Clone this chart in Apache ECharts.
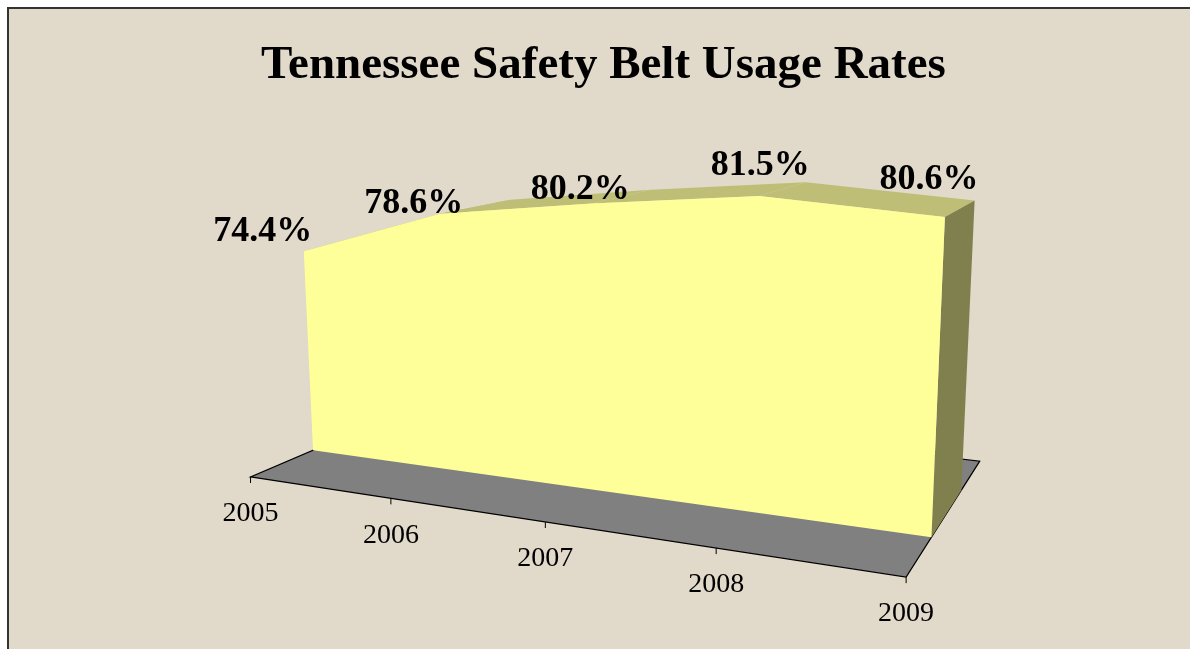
<!DOCTYPE html>
<html><head><meta charset="utf-8">
<script src="https://cdn.jsdelivr.net/npm/echarts@6/dist/echarts.min.js"></script>
<style>
html,body{margin:0;padding:0;background:#fff;}
#frame{position:absolute;left:7px;top:7px;width:1190px;height:640px;border-left:2px solid #333;border-top:2px solid #333;background:#E1D9CA;}
#chart{position:absolute;left:0;top:0;width:1190px;height:650px;}
</style></head><body><div id="frame"></div><div id="chart"></div>
<script>
// Safety belt usage by year
const years = ['2005', '2006', '2007', '2008', '2009'];
const rates = [74.4, 78.6, 80.2, 81.5, 80.6];

// Hidden value axis range the 3D area stands on
const VALUE_MIN = 55.5;
const VALUE_MAX = 100;

// Perspective camera: maps world (X across categories 0..1, Y up 0..1, Z depth 0..1) to screen
const CAM = [489.87683, -44.25333, 288.50489, 250.53646,
             -5.38564, -517.23607, 12.74985, 476.95937,
             -0.18287, -0.06910, 0.23305];
const AREA_FRONT = 0.29, AREA_BACK = 0.70;   // depth slab occupied by the area on the floor
const LABEL_SHIFT = [[-41, -20], [-26, -10], [-11, -14], [1, -30], [-16, -37]];

function proj(X, Y, Z) {
  const w = CAM[8] * X + CAM[9] * Y + CAM[10] * Z + 1;
  return [(CAM[0] * X + CAM[1] * Y + CAM[2] * Z + CAM[3]) / w,
          (CAM[4] * X + CAM[5] * Y + CAM[6] * Z + CAM[7]) / w];
}
// Turn a category/value pair into world X/Y through the cartesian axes
function world(api, params, i, v) {
  const r = params.coordSys;
  const p = api.coord([i, v]);
  return [(p[0] - r.x) / r.width, (r.y + r.height - p[1]) / r.height];
}

const chart = echarts.init(document.getElementById('chart'));
const data = rates.map((v, i) => [i, v]);
const n = rates.length;

chart.setOption({
  animation: false,
  title: {
    text: 'Tennessee Safety Belt Usage Rates', left: 256, top: 37,
    textStyle: { fontFamily: 'Liberation Serif', fontWeight: 'bold', fontSize: 47, color: '#000' }
  },
  grid: { left: 0, right: 0, top: 0, bottom: 0, show: false },
  xAxis: { type: 'category', data: years, boundaryGap: false, show: false },
  yAxis: { type: 'value', min: VALUE_MIN, max: VALUE_MAX, show: false },
  series: [
    // floor, tick marks and year labels
    { type: 'custom', z: 1, data: data, renderItem: (params, api) => {
      const i = params.dataIndex; const ch = [];
      const [X] = world(api, params, i, VALUE_MIN);
      if (i === 0) {
        const [X1] = world(api, params, n - 1, VALUE_MIN);
        ch.push({ type: 'polygon', shape: { points: [proj(X, 0, 0), proj(X1, 0, 0), proj(X1, 0, 1), proj(X, 0, 1)] },
          style: { fill: '#808080', stroke: '#000', lineWidth: 1.2 } });
      }
      const a = proj(X, 0, 0);
      ch.push({ type: 'line', shape: { x1: a[0], y1: a[1], x2: a[0], y2: a[1] + 6 }, style: { stroke: '#000', lineWidth: 1 } });
      ch.push({ type: 'text', x: a[0], y: a[1] + 37,
        style: { text: years[i], align: 'center', verticalAlign: 'middle', font: '28px "Liberation Serif"', fill: '#000' } });
      return { type: 'group', children: ch };
    } },
    // top surface between neighbouring years
    { type: 'custom', z: 2, data: data, renderItem: (params, api) => {
      const i = params.dataIndex; if (i >= n - 1) return null;
      const [X, Y] = world(api, params, i, api.value(1));
      const [X2, Y2] = world(api, params, i + 1, rates[i + 1]);
      return { type: 'polygon',
        shape: { points: [proj(X, Y, AREA_FRONT), proj(X2, Y2, AREA_FRONT), proj(X2, Y2, AREA_BACK), proj(X, Y, AREA_BACK)] },
        style: { fill: '#BEBE76' } };
    } },
    // right end wall and front face of the area
    { type: 'custom', z: 3, data: data, renderItem: (params, api) => {
      if (params.dataIndex !== 0) return null;
      const top = rates.map((v, j) => world(api, params, j, v));
      const [X0] = world(api, params, 0, VALUE_MIN);
      const [Xn] = world(api, params, n - 1, VALUE_MIN);
      const yEnd = top[n - 1][1];
      const side = [proj(Xn, yEnd, AREA_FRONT), proj(Xn, yEnd, AREA_BACK), proj(Xn, 0, AREA_BACK), proj(Xn, 0, AREA_FRONT)];
      const front = [proj(X0, 0, AREA_FRONT)].concat(top.map(t => proj(t[0], t[1], AREA_FRONT))).concat([proj(Xn, 0, AREA_FRONT)]);
      return { type: 'group', children: [
        { type: 'polygon', shape: { points: side }, style: { fill: '#80804F' } },
        { type: 'polygon', shape: { points: front }, style: { fill: '#FFFF99' } }
      ] };
    } },
    // value labels
    { type: 'custom', z: 4, data: data, renderItem: (params, api) => {
      const i = params.dataIndex;
      const [X, Y] = world(api, params, i, api.value(1));
      const a = proj(X, Y, AREA_FRONT);
      return { type: 'text', x: a[0] + LABEL_SHIFT[i][0], y: a[1] + LABEL_SHIFT[i][1],
        style: { text: api.value(1).toFixed(1) + '%', align: 'center', verticalAlign: 'middle',
          font: 'bold 36px "Liberation Serif"', fill: '#000' } };
    } }
  ]
});
</script></body></html>
